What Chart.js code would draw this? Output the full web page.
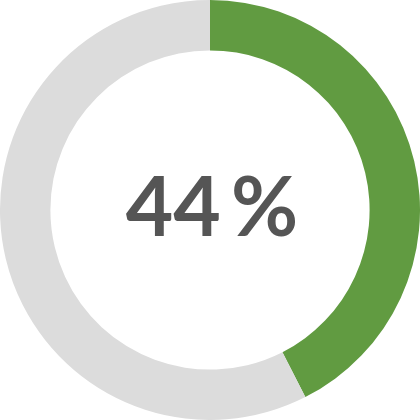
<!DOCTYPE html>
<html>
<head>
<meta charset="utf-8">
<script src="https://cdn.jsdelivr.net/npm/chart.js@4"></script>
<style>
  html, body { margin: 0; padding: 0; background: #fff; }
  #wrap { width: 420px; height: 420px; }
</style>
</head>
<body>
<div id="wrap"><canvas id="gauge"></canvas></div>
<script>
// arc (~42.5% of the circle), label as printed
const labels = ['Done', 'Remaining'];
const values = [42.5, 57.5];
const colors = ['#619b41', '#dcdcdc'];
const centerLabel = '44\u2009%';

const centerText = {
  id: 'centerText',
  afterDraw(chart) {
    const { ctx, chartArea } = chart;
    const cx = (chartArea.left + chartArea.right) / 2;
    ctx.save();
    ctx.font = '700 82px Lato, sans-serif';
    ctx.fillStyle = '#555555';
    ctx.textAlign = 'center';
    ctx.textBaseline = 'alphabetic';
    ctx.fillText(centerLabel, cx + 2, 236);
    ctx.restore();
  }
};

new Chart(document.getElementById('gauge'), {
  type: 'doughnut',
  data: {
    labels: labels,
    datasets: [{
      data: values,
      backgroundColor: colors,
      borderWidth: 0
    }]
  },
  options: {
    responsive: true,
    maintainAspectRatio: false,
    animation: false,
    cutout: '76%',
    layout: { padding: 0 },
    plugins: {
      legend: { display: false },
      tooltip: { enabled: false }
    }
  },
  plugins: [centerText]
});
</script>
</body>
</html>
